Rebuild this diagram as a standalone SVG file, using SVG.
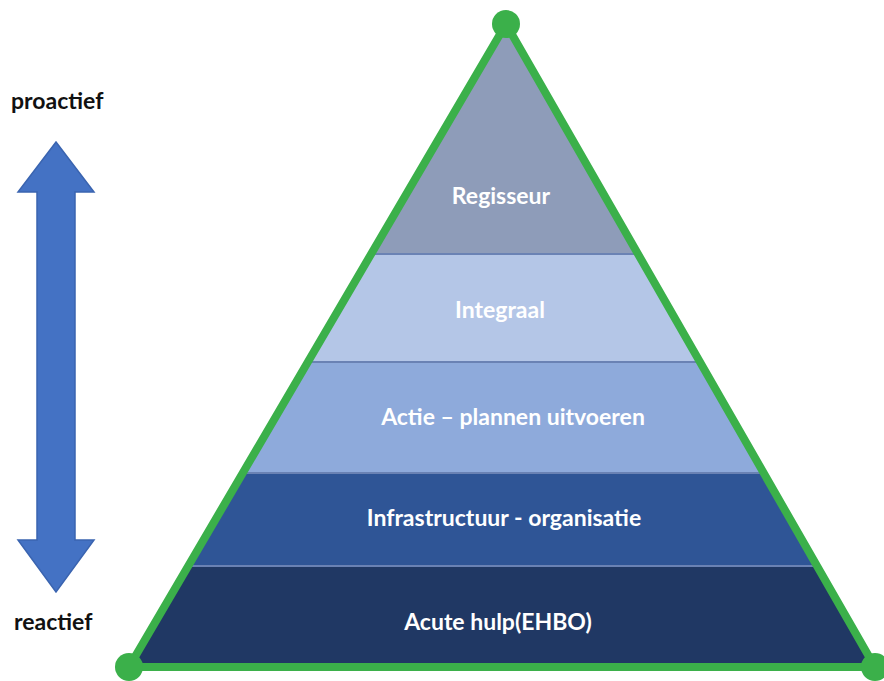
<svg xmlns="http://www.w3.org/2000/svg" width="884" height="681" viewBox="0 0 884 681">
<style>
.lbl{font-family:Lato,"Open Sans","Liberation Sans",sans-serif;font-weight:bold;font-size:23px;fill:#ffffff;text-anchor:middle}
.side{font-family:Lato,"Open Sans","Liberation Sans",sans-serif;font-weight:bold;font-size:23px;fill:#111111}
.sep{stroke:#6a82b4;stroke-width:2}
.edge{fill:none;stroke:#3bb04a;stroke-width:8;stroke-linejoin:round}
.dot{fill:#3bb04a}
</style>
<defs>
<clipPath id="tri"><polygon points="506,24 129,667 875,667"/></clipPath>
</defs>
<rect width="884" height="681" fill="#ffffff"/>
<g clip-path="url(#tri)">
<g id="layer-regisseur"><rect x="100" y="0" width="800" height="254" fill="#8e9cb9"/><text class="lbl" x="501" y="204">Regisseur</text></g>
<g id="layer-integraal"><rect x="100" y="254" width="800" height="108" fill="#b4c6e7"/><text class="lbl" x="500" y="318">Integraal</text></g>
<g id="layer-actie"><rect x="100" y="362" width="800" height="111" fill="#8eaadb"/><text class="lbl" x="513" y="425">Actie – plannen uitvoeren</text></g>
<g id="layer-infra"><rect x="100" y="473" width="800" height="93" fill="#2f5596"/><text class="lbl" x="504" y="526">Infrastructuur - organisatie</text></g>
<g id="layer-acute"><rect x="100" y="566" width="800" height="115" fill="#203864"/><text class="lbl" x="498" y="630">Acute hulp(EHBO)</text></g>
<line class="sep" x1="100" y1="254" x2="900" y2="254"/>
<line class="sep" x1="100" y1="362" x2="900" y2="362"/>
<line class="sep" x1="100" y1="473" x2="900" y2="473"/>
<line class="sep" x1="100" y1="566" x2="900" y2="566" stroke="#2a4a85"/>
</g>
<g id="pyramid-outline">
<polygon class="edge" points="506,24 129,667 875,667"/>
<circle class="dot" cx="506" cy="24" r="14"/>
<circle class="dot" cx="129" cy="667" r="14"/>
<circle class="dot" cx="875" cy="667" r="14"/>
</g>
<g id="connectors">
<polygon id="double-arrow" points="56,142 94,192 75,192 75,540 94,540 56,592 18,540 37,540 37,192 18,192" fill="#4472c4" stroke="#3a64b0" stroke-width="1.5" stroke-linejoin="miter"/>
</g>
<g id="label-proactief"><text class="side" x="11" y="109">proactief</text></g>
<g id="label-reactief"><text class="side" x="14" y="630">reactief</text></g>
</svg>
